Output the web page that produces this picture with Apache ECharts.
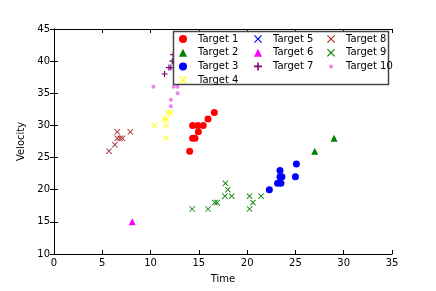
<!DOCTYPE html>
<html><head><meta charset="utf-8">
<script src="https://cdn.jsdelivr.net/npm/echarts@6/dist/echarts.min.js"></script>
<style>html,body{margin:0;padding:0;background:#fff}#c{width:436px;height:291px}</style>
</head><body><div id="c"></div>
<script>
const seriesNames = ['Target 1','Target 2','Target 3','Target 4','Target 5','Target 6','Target 7','Target 8','Target 9','Target 10'];
const target1 = [[14.05,26],[14.35,28],[14.6,28],[14.35,30],[14.9,30],[14.95,29],[15.45,30],[15.95,31],[16.6,32]];
const target2 = [[27,26],[29,28]];
const target3 = [[22.3,20],[23.15,21],[23.5,21],[23.4,22],[23.6,22],[23.4,23],[25,22],[25.1,24]];
const target4 = [[10.4,30],[11.4,31],[11.65,31],[11.6,30],[11.6,28],[11.8,32],[12.1,32]];
const target5 = [];
const target6 = [[8.1,15]];
const target7 = [[11.45,38],[11.9,39],[12.1,39],[12.25,40],[12.35,41]];
const target8 = [[5.7,26],[6.3,27],[6.55,29],[6.55,28],[6.85,28],[7.1,28],[7.9,29]];
const target9 = [[14.3,17],[15.95,17],[16.65,18],[16.9,18],[17.7,19],[18.4,19],[18.0,20],[17.75,21],[20.25,19],[20.6,18],[20.25,17],[21.45,19]];
const target10 = [[10.3,36],[12.4,36],[12.8,36],[12.8,35],[12.1,34],[12.1,33]];
const xTicks = [0,5,10,15,20,25,30,35];
const yTicks = [10,15,20,25,30,35,40,45];

const PLUS = 'path://M4,0H6V4H10V6H6V10H4V6H0V4H4Z';
const CROSS = 'path://M1,0L5,4L9,0L10,1L6,5L10,9L9,10L5,6L1,10L0,9L4,5L0,1Z';
const SMALLDOT = 'path://M0,0M10,10M2.5,5A2.5,2.5,0,1,1,7.5,5A2.5,2.5,0,1,1,2.5,5Z';
const styles = [
  {sym:'circle', size:7, color:'#ff0000'},
  {sym:'triangle', size:7, color:'#008000'},
  {sym:'circle', size:7, color:'#0000ff'},
  {sym:CROSS, size:6, color:'#ffff00'},
  {sym:CROSS, size:6, color:'#0000ff'},
  {sym:'triangle', size:7, color:'#ff00ff'},
  {sym:PLUS, size:6, color:'#800080'},
  {sym:CROSS, size:6, color:'#a52a2a'},
  {sym:CROSS, size:6, color:'#008000'},
  {sym:'circle', size:4, color:'#ee82ee', legendSym:SMALLDOT}
];
const datas = [target1,target2,target3,target4,target5,target6,target7,target8,target9,target10];

const font = 'DejaVu Sans';
const series = datas.map((d,i)=>({
  name: seriesNames[i], type:'scatter', data:d,
  symbol: styles[i].sym, symbolSize: styles[i].size,
  itemStyle:{color: styles[i].color, opacity:1}, z:2
}));

function legend(names, left){
  return {
    data: names.map((n)=>{const s=styles[seriesNames.indexOf(n)];return {name:n, icon:s.legendSym||s.sym, itemStyle:{color:s.color}};}),
    orient:'vertical', left:left, top:34, itemGap:3.7, itemWidth:8, itemHeight:8,
    textStyle:{fontFamily:font, fontSize:10, color:'#000', padding:[0,0,0,6]},
    selectedMode:false, z:20, padding:0
  };
}

const axisCommon = {
  min:0, max:35, interval:5,
  axisLine:{show:true, lineStyle:{color:'#000', width:1}},
  axisTick:{show:true, inside:true, length:4, lineStyle:{color:'#000'}},
  splitLine:{show:false}
};

const option = {
  animation:false,
  grid:{left:54, right:44, top:29, bottom:37},
  xAxis:[
    Object.assign({}, axisCommon, {type:'value', position:'bottom', name:'Time', nameLocation:'middle', nameGap:20,
      nameTextStyle:{fontFamily:font, fontSize:10, color:'#000'},
      axisLabel:{fontFamily:font, fontSize:10, color:'#000', margin:4, formatter:(v)=>xTicks.includes(v)?String(v):''}}),
    Object.assign({}, axisCommon, {type:'value', position:'top', axisLabel:{show:false}})
  ],
  yAxis:[
    Object.assign({}, axisCommon, {type:'value', min:10, max:45, interval:5, position:'left', name:'Velocity', nameLocation:'middle', nameGap:27,
      nameTextStyle:{fontFamily:font, fontSize:10, color:'#000'},
      axisLabel:{fontFamily:font, fontSize:10, color:'#000', margin:4, formatter:(v)=>yTicks.includes(v)?String(v):''}}),
    Object.assign({}, axisCommon, {type:'value', min:10, max:45, interval:5, position:'right', axisLabel:{show:false}})
  ],
  legend:[
    legend(['Target 1','Target 2','Target 3','Target 4'], 179),
    legend(['Target 5','Target 6','Target 7'], 254),
    legend(['Target 8','Target 9','Target 10'], 327)
  ],
  graphic:[{type:'rect', shape:{x:173.5, y:31.5, width:215, height:53}, style:{fill:'#fff', stroke:'#444', lineWidth:1.5}, z:15}],
  series: series
};
echarts.init(document.getElementById('c'), null, {renderer:'canvas'}).setOption(option);
</script></body></html>
